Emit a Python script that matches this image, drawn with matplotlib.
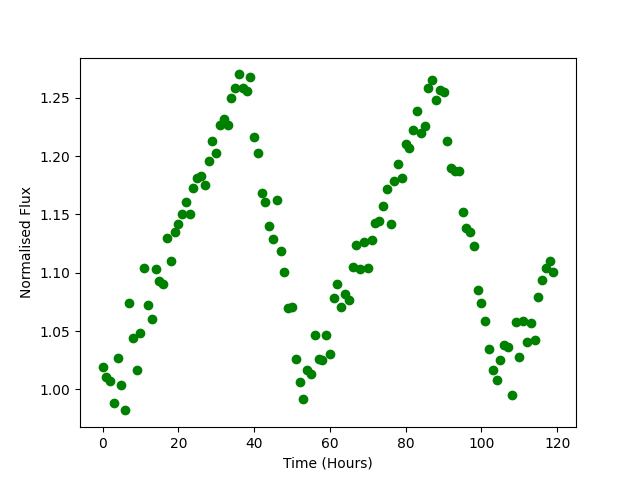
import matplotlib
matplotlib.use("Agg")
import matplotlib.pyplot as plt

# Time in hours (one reading per hour).
hours = list(range(120))

# Normalised flux.
flux = [
    1.019, 1.011, 1.007, 0.988, 1.027, 1.004, 0.982, 1.074, 1.044, 1.017,
    1.048, 1.104, 1.072, 1.060, 1.103, 1.093, 1.090, 1.130, 1.110, 1.135,
    1.142, 1.150, 1.161, 1.150, 1.173, 1.181, 1.183, 1.175, 1.196, 1.213,
    1.203, 1.227, 1.232, 1.227, 1.250, 1.258, 1.270, 1.258, 1.256, 1.268,
    1.216, 1.203, 1.168, 1.161, 1.140, 1.129, 1.162, 1.119, 1.101, 1.070,
    1.071, 1.026, 1.006, 0.992, 1.017, 1.013, 1.047, 1.026, 1.025, 1.047,
    1.030, 1.078, 1.090, 1.071, 1.082, 1.077, 1.105, 1.124, 1.103, 1.126,
    1.104, 1.128, 1.143, 1.144, 1.157, 1.172, 1.142, 1.179, 1.193, 1.181,
    1.210, 1.207, 1.222, 1.239, 1.220, 1.226, 1.258, 1.265, 1.248, 1.257,
    1.255, 1.213, 1.190, 1.187, 1.187, 1.152, 1.138, 1.135, 1.123, 1.085,
    1.074, 1.059, 1.035, 1.017, 1.008, 1.025, 1.038, 1.036, 0.995, 1.058,
    1.028, 1.059, 1.041, 1.057, 1.042, 1.079, 1.094, 1.104, 1.110, 1.101,
]

fig, ax = plt.subplots(figsize=(6.4, 4.8), dpi=100)
ax.plot(hours, flux, "o", color="green")

ax.set_xlabel("Time (Hours)")
ax.set_ylabel("Normalised Flux")

fig.savefig("out.png")
